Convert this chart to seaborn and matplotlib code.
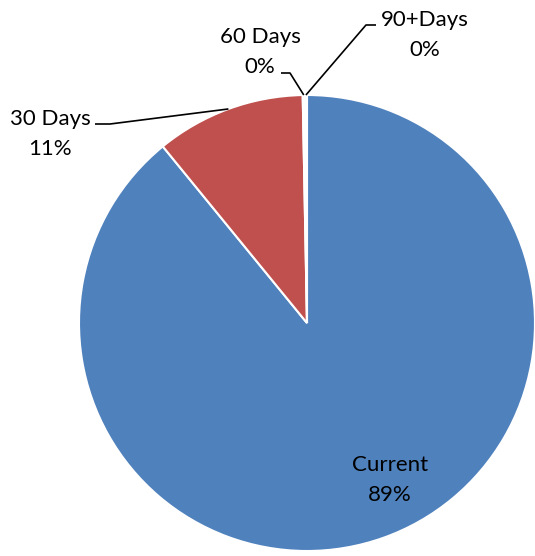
import numpy as np
import matplotlib
matplotlib.use("Agg")
import matplotlib.pyplot as plt
import seaborn as sns

# Receivables ageing shares (percent of total)
categories = ["Current", "30 Days", "60 Days", "90+Days"]
shares = [89.1, 10.6, 0.15, 0.15]
colors = ["#4F81BD", "#C0504D", "#9BBB59", "#8064A2"]

sns.set_theme(style="white")
plt.rcParams["font.family"] = ["Lato", "DejaVu Sans"]

W, H = 535, 556
fig = plt.figure(figsize=(W / 100, H / 100), dpi=100)
cx, cy, r = 307, 323, 228
ax = fig.add_axes([(cx - r) / W, (H - cy - r) / H, 2 * r / W, 2 * r / H])

wedges, _ = ax.pie(
    shares, colors=colors, startangle=90, counterclock=False, radius=1,
    wedgeprops=dict(edgecolor="white", linewidth=1.5),
)
ax.set_xlim(-1, 1)
ax.set_ylim(-1, 1)
ax.set_aspect("equal")
ax.axis("off")


def px(x, y):
    """Convert figure pixel position to pie data coordinates."""
    return (x - cx) / r, (cy - y) / r


def edge_point(w):
    ang = np.deg2rad((w.theta1 + w.theta2) / 2)
    return np.cos(ang), np.sin(ang)


def label(i):
    return f"{categories[i]}\n{shares[i]:.0f}%"


fs = 16
# Label placements (pixel centers) and leader elbows
text_pos = {0: (390, 480), 1: (50, 134), 2: (260, 52), 3: (425, 35)}
leaders = {1: [(95, 124), (110, 124)], 2: [(281, 73), (290, 73)], 3: [(376, 25), (366, 25)]}

for i in range(len(categories)):
    tx, ty = px(*text_pos[i])
    ax.text(tx, ty, label(i), ha="center", va="center", fontsize=fs,
            linespacing=1.6, color="#000000", clip_on=False)
    if i in leaders:
        pts = [px(*p) for p in leaders[i]] + [edge_point(wedges[i])]
        xs, ys = zip(*pts)
        ax.plot(xs, ys, color="black", linewidth=1.2, clip_on=False,
                solid_capstyle="butt")

fig.savefig("out.png", dpi=100)
